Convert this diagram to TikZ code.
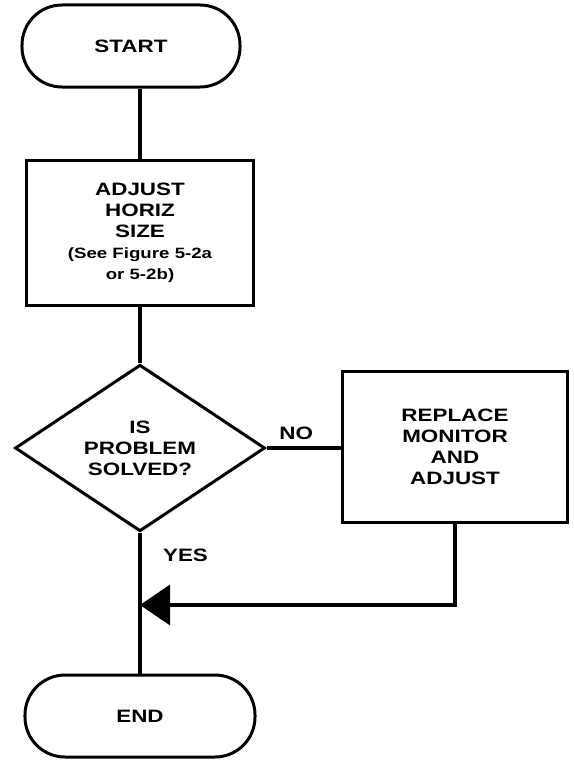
\documentclass[tikz,border=0pt]{standalone}
\usepackage{fontspec}
\setmainfont[FakeStretch=1.25]{Liberation Sans}
\usetikzlibrary{shapes.geometric,arrows.meta}
\begin{document}
\begin{tikzpicture}[x=1bp, y=-1bp,
        every node/.style={font=\bfseries\fontsize{18}{21}\selectfont, align=center},
        terminal/.style={draw, line width=3bp, rounded corners=40bp, minimum height=82bp},
        process/.style={draw, line width=3bp, inner sep=0pt},
        decision/.style={draw, diamond, line width=3bp, inner sep=0pt, minimum width=250bp, minimum height=147bp},
        flow/.style={line width=3.5bp}]
        \useasboundingbox (0,0) rectangle (574,761);
        \node[terminal, minimum width=218bp] (start) at (131,46) {START};
        \node[process, minimum width=227bp, minimum height=145bp] (adjust) at (140,233)
            {ADJUST\\HORIZ\\SIZE\\{\fontsize{15}{18}\selectfont(See Figure 5-2a}\\{\fontsize{15}{18}\selectfont or 5-2b)}};
        \node[decision] (solved) at (140,448) {IS\\PROBLEM\\SOLVED?};
        \node[process, minimum width=225bp, minimum height=151bp] (replace) at (455,447) {REPLACE\\MONITOR\\AND\\ADJUST};
        \node[terminal, minimum width=230bp] (end) at (140,716) {END};
        \coordinate (join) at (140,605);
        \draw[flow] (start.south -| adjust) -- (adjust.north);
        \draw[flow] (adjust) -- (solved);
        \draw[flow] (solved.east) -- node[above=3bp, pos=0.4] {NO} (solved.east -| replace.west);
        \draw[flow] (solved) -- node[right=18bp, pos=0.16] {YES} (end);
        \draw[flow, -{Triangle[length=30bp, width=40bp]}] (replace.south) |- (join);
\end{tikzpicture}
\end{document}
